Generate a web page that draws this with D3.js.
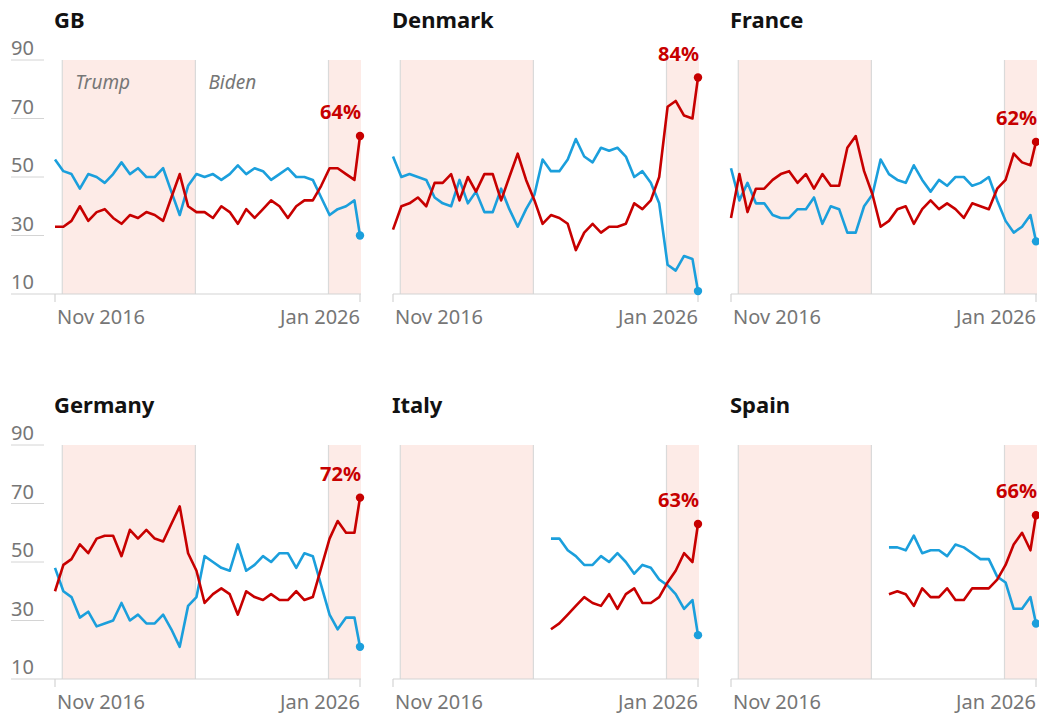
<!DOCTYPE html>
<html>
<head>
<meta charset="utf-8">
<script src="https://cdn.jsdelivr.net/npm/d3@7"></script>
<style>
  body { margin: 0; background: #fff; }
  svg { font-family: "Noto Sans", sans-serif; display: block; }
</style>
</head>
<body>
<svg id="chart"></svg>
<script>
// Survey dates (roughly quarterly), shared by every country
var dates = ["2016-11", "2017-02", "2017-05", "2017-08", "2017-11", "2018-02", "2018-05", "2018-08",
  "2018-11", "2019-02", "2019-05", "2019-08", "2019-11", "2020-02", "2020-05", "2020-08",
  "2020-11", "2021-02", "2021-05", "2021-08", "2021-11", "2022-02", "2022-05", "2022-08",
  "2022-11", "2023-02", "2023-05", "2023-08", "2023-11", "2024-02", "2024-05", "2024-08",
  "2024-11", "2025-02", "2025-05", "2025-08", "2025-11", "2026-01"];

var countries = ["GB", "Denmark", "France", "Germany", "Italy", "Spain"];

// Red line (unfavourable) and blue line (favourable), % of respondents
var gbRed = [33, 33, 35, 40, 35, 38, 39, 36, 34, 37, 36, 38, 37, 35, 43, 51, 40, 38, 38,
  36, 40, 38, 34, 39, 36, 39, 42, 40, 36, 40, 42, 42, 47, 53, 53, 51, 49, 64];
var gbBlue = [56, 52, 51, 46, 51, 50, 48, 51, 55, 51, 53, 50, 50, 53, 45, 37, 47, 51, 50,
  51, 49, 51, 54, 51, 53, 52, 49, 51, 53, 50, 50, 49, 43, 37, 39, 40, 42, 30];

var dkRed = [32, 40, 41, 43, 40, 48, 48, 51, 42, 50, 45, 51, 51, 42, 50, 58, 49, 42, 34,
  37, 36, 34, 25, 31, 34, 31, 33, 33, 34, 41, 39, 42, 50, 74, 76, 71, 70, 84];
var dkBlue = [57, 50, 51, 50, 49, 43, 41, 40, 49, 41, 45, 38, 38, 46, 39, 33, 39, 44, 56,
  52, 52, 56, 63, 57, 55, 60, 59, 60, 57, 50, 52, 48, 41, 20, 18, 23, 22, 11];

var frRed = [36, 51, 38, 46, 46, 49, 51, 52, 48, 51, 46, 51, 47, 47, 60, 64, 52, 44, 33,
  35, 39, 40, 34, 39, 42, 39, 41, 39, 36, 41, 40, 39, 46, 49, 58, 55, 54, 62];
var frBlue = [53, 42, 48, 41, 41, 37, 36, 36, 39, 39, 43, 34, 40, 39, 31, 31, 40, 44, 56,
  51, 49, 48, 54, 49, 45, 49, 47, 50, 50, 47, 48, 50, 42, 35, 31, 33, 37, 28];

var deRed = [40, 49, 51, 56, 53, 58, 59, 59, 52, 61, 58, 61, 58, 57, 63, 69, 53, 47, 36,
  39, 41, 39, 32, 40, 38, 37, 39, 37, 37, 40, 37, 38, 48, 58, 64, 60, 60, 72];
var deBlue = [48, 40, 38, 31, 33, 28, 29, 30, 36, 30, 32, 29, 29, 32, 27, 21, 35, 38, 52,
  50, 48, 47, 56, 47, 49, 52, 50, 53, 53, 48, 53, 52, 42, 32, 27, 31, 31, 21];

var itRed = [null, null, null, null, null, null, null, null, null, null, null, null, null,
  null, null, null, null, null, null,
  27, 29, 32, 35, 38, 36, 35, 39, 34, 39, 41, 36, 36, 38, 43, 47, 53, 50, 63];
var itBlue = [null, null, null, null, null, null, null, null, null, null, null, null, null,
  null, null, null, null, null, null,
  58, 58, 54, 52, 49, 49, 52, 50, 53, 50, 46, 49, 48, 44, 42, 39, 34, 37, 25];

var esRed = [null, null, null, null, null, null, null, null, null, null, null, null, null,
  null, null, null, null, null, null,
  39, 40, 39, 35, 41, 38, 38, 41, 37, 37, 41, 41, 41, 44, 49, 56, 60, 54, 66];
var esBlue = [null, null, null, null, null, null, null, null, null, null, null, null, null,
  null, null, null, null, null, null,
  55, 55, 54, 59, 53, 54, 54, 52, 56, 55, 53, 51, 51, 45, 43, 34, 34, 38, 29];

var redSeries = [gbRed, dkRed, frRed, deRed, itRed, esRed];
var blueSeries = [gbBlue, dkBlue, frBlue, deBlue, itBlue, esBlue];

// Presidential terms
var termNames = ["Trump", "Biden", "Trump"];
var termStarts = ["2017-01-20", "2021-01-20", "2025-01-20"];

var yTicks = [10, 30, 50, 70, 90];

var red = "#c70000",
  blue = "#1b9fdc",
  shade = "#fdebe7",
  grey = "#767676";

var width = 1039,
  height = 715,
  plotW = 305,
  plotH = 234,
  colStep = 338,
  rowStep = 385,
  marginLeft = 55,
  marginTop = 60;

var svg = d3.select("#chart").attr("width", width).attr("height", height);

var parseMonth = d3.timeParse("%Y-%m"),
  parseDay = d3.timeParse("%Y-%m-%d");

var x = d3
  .scaleTime()
  .domain([parseMonth("2016-11"), parseMonth("2026-01")])
  .range([0, plotW]);

var y = d3.scaleLinear().domain([10, 90]).range([plotH, 0]);

var line = d3
  .line()
  .defined(function(d) { return d.v != null; })
  .x(function(d) { return x(d.date); })
  .y(function(d) { return y(d.v); });

function toPoints(values) {
  return values.map(function(v, i) {
    return { date: parseMonth(dates[i]), v: v };
  });
}

countries.forEach(function(name, k) {
  var col = k % 3,
    row = Math.floor(k / 3);

  var g = svg
    .append("g")
    .attr("transform", "translate(" + (marginLeft + col * colStep) + "," + (marginTop + row * rowStep) + ")");

  // Term shading
  termStarts.forEach(function(s, i) {
    var x0 = x(parseDay(s)),
      x1 = i < termStarts.length - 1 ? x(parseDay(termStarts[i + 1])) : plotW + 1;
    if (termNames[i] === "Trump") {
      g.append("rect")
        .attr("x", x0)
        .attr("y", 0)
        .attr("width", x1 - x0)
        .attr("height", plotH)
        .attr("fill", shade);
    }
    g.append("line")
      .attr("x1", x0)
      .attr("x2", x0)
      .attr("y1", 0)
      .attr("y2", plotH)
      .attr("stroke", "#dadada")
      .attr("stroke-width", 1.2);
  });

  // Term names (first panel only)
  if (k === 0) {
    termStarts.slice(0, 2).forEach(function(s, i) {
      g.append("text")
        .attr("x", x(parseDay(s)) + 13)
        .attr("y", 29)
        .attr("font-size", 19)
        .attr("font-style", "italic")
        .attr("fill", grey)
        .text(termNames[i]);
    });
  }

  // Y axis (left column only)
  if (col === 0) {
    yTicks.forEach(function(t) {
      if (t !== 10) {
        g.append("line")
          .attr("x1", -44)
          .attr("x2", -11)
          .attr("y1", y(t))
          .attr("y2", y(t))
          .attr("stroke", "#d4d4d4");
      }
      g.append("text")
        .attr("x", -44)
        .attr("y", y(t) - 5)
        .attr("font-size", 20)
        .attr("fill", grey)
        .text(t);
    });
  }

  // Baseline
  g.append("line")
    .attr("x1", col === 0 ? -44 : 0)
    .attr("x2", plotW + 1)
    .attr("y1", plotH)
    .attr("y2", plotH)
    .attr("stroke", "#d4d4d4")
    .attr("stroke-width", 1.2);

  // X ticks
  var xDomain = x.domain();
  xDomain.forEach(function(d, i) {
    g.append("line")
      .attr("x1", x(d))
      .attr("x2", x(d))
      .attr("y1", plotH)
      .attr("y2", plotH + 8)
      .attr("stroke", "#d4d4d4")
      .attr("stroke-width", 1.2);
    g.append("text")
      .attr("x", i === 0 ? x(d) + 2 : x(d))
      .attr("y", plotH + 30)
      .attr("font-size", 20)
      .attr("fill", grey)
      .attr("text-anchor", i === 0 ? "start" : "end")
      .text(d3.timeFormat("%b %Y")(d));
  });

  // Lines
  var redPts = toPoints(redSeries[k]),
    bluePts = toPoints(blueSeries[k]);

  [[bluePts, blue], [redPts, red]].forEach(function(s) {
    g.append("path")
      .datum(s[0])
      .attr("d", line)
      .attr("fill", "none")
      .attr("stroke", s[1])
      .attr("stroke-width", 2.6)
      .attr("stroke-linejoin", "round");

    var last = s[0][s[0].length - 1];
    g.append("circle")
      .attr("cx", x(last.date))
      .attr("cy", y(last.v))
      .attr("r", 4.2)
      .attr("fill", s[1]);
  });

  // Latest value label
  var lastRed = redPts[redPts.length - 1];
  g.append("text")
    .attr("x", x(lastRed.date) + 1)
    .attr("y", y(lastRed.v) - 17)
    .attr("text-anchor", "end")
    .attr("font-size", 20)
    .attr("font-weight", "bold")
    .attr("fill", red)
    .text(lastRed.v + "%");

  // Title
  g.append("text")
    .attr("x", -1)
    .attr("y", -32)
    .attr("font-size", 22)
    .attr("font-weight", "bold")
    .attr("fill", "#121212")
    .text(name);
});
</script>
</body>
</html>
